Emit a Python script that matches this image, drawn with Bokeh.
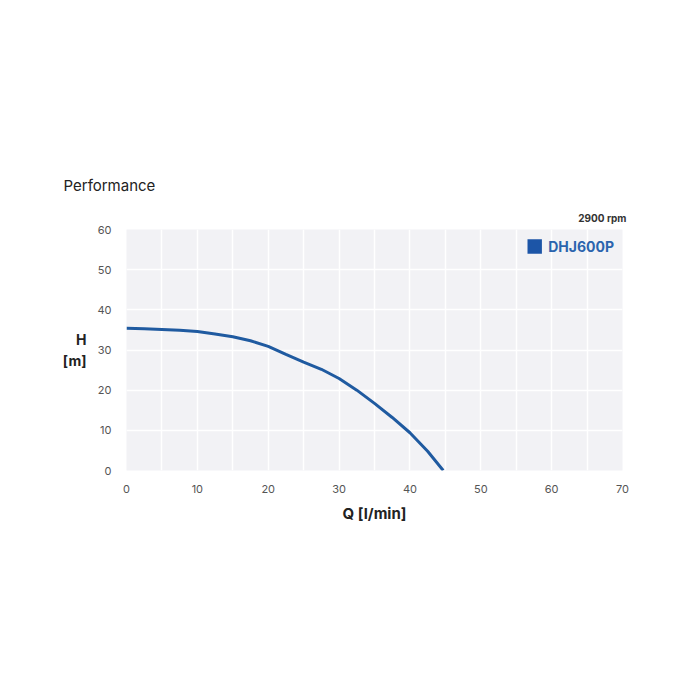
from bokeh.plotting import figure
from bokeh.models import Range1d, SingleIntervalTicker, FixedTicker, Legend, LegendItem, Title
from bokeh.embed import file_html
from bokeh.resources import INLINE

# Data
flow_lpm = [0, 2.5, 5, 7.5, 10, 12.5, 15, 17.5, 20, 22.5, 25, 27.5, 30, 32.5, 35, 37.5, 40, 42.5, 44.7]
head_m = [35.4, 35.3, 35.1, 34.9, 34.6, 34.0, 33.3, 32.3, 30.9, 28.9, 27.0, 25.2, 22.9, 20.0, 16.7, 13.2, 9.4, 4.8, 0.0]
x_ticks = [0, 10, 20, 30, 40, 50, 60, 70]
y_ticks = [0, 10, 20, 30, 40, 50, 60]
series_name = "DHJ600P"
speed_text = "2900 rpm"
title_text = "Performance"
x_label = "Q [l/min]"
y_label = "H\n[m]"

FONT = "Inter"
BLUE = "#1f5aa0"

p = figure(width=684, height=684, output_backend="svg", toolbar_location=None, title=None,
           x_range=Range1d(0, 70), y_range=Range1d(0, 60),
           min_border_left=126, min_border_right=62,
           min_border_top=229, min_border_bottom=214)
p.outline_line_color = None
p.background_fill_color = "#f2f2f5"
p.border_fill_color = "white"

p.xaxis.ticker = FixedTicker(ticks=x_ticks)
p.yaxis.ticker = FixedTicker(ticks=y_ticks)
for ax in (p.xaxis[0], p.yaxis[0]):
    ax.axis_line_color = None
    ax.major_tick_line_color = None
    ax.minor_tick_line_color = None
    ax.major_label_text_font = FONT
    ax.major_label_text_font_size = "11px"
    ax.major_label_text_color = "#555555"
    ax.axis_label_text_font = FONT
    ax.axis_label_text_font_style = "bold"
    ax.axis_label_text_color = "#222222"
p.xaxis.major_label_standoff = 8
p.yaxis.major_label_standoff = 9
p.xaxis.axis_label = x_label
p.xaxis.axis_label_text_font_size = "15px"
p.xaxis.axis_label_standoff = 8
p.yaxis.axis_label = y_label
p.yaxis.axis_label_orientation = "horizontal"
p.yaxis.axis_label_text_font_size = "14px"
p.yaxis.axis_label_standoff = 8

p.xgrid.ticker = SingleIntervalTicker(interval=5)
p.ygrid.ticker = SingleIntervalTicker(interval=10)
p.xgrid.grid_line_color = "white"
p.ygrid.grid_line_color = "white"
p.xgrid.grid_line_width = 1.5
p.ygrid.grid_line_width = 1.5

p.line(flow_lpm, head_m, line_color=BLUE, line_width=3)

swatch = p.varea(x=flow_lpm, y1=0, y2=head_m, fill_color="#1c55a7", visible=False)
legend = Legend(items=[LegendItem(label=series_name, renderers=[swatch])],
                location="top_right", background_fill_alpha=0, border_line_color=None,
                inactive_fill_alpha=0,
                label_text_font=FONT, label_text_font_style="bold",
                label_text_font_size="14px", label_text_color="#2b64ae",
                glyph_width=18, glyph_height=18, label_standoff=5, margin=8, padding=8)
p.add_layout(legend)

p.add_layout(Title(text=speed_text, align="right", text_font=FONT, text_font_size="10px",
                   text_font_style="bold", text_color="#333333", offset=-4, standoff=11), "above")
p.add_layout(Title(text=title_text, align="left", text_font=FONT, text_font_size="15px",
                   text_font_style="normal", text_color="#222222", offset=-63, standoff=19), "above")

open("out.html", "w").write(file_html(p, INLINE))
